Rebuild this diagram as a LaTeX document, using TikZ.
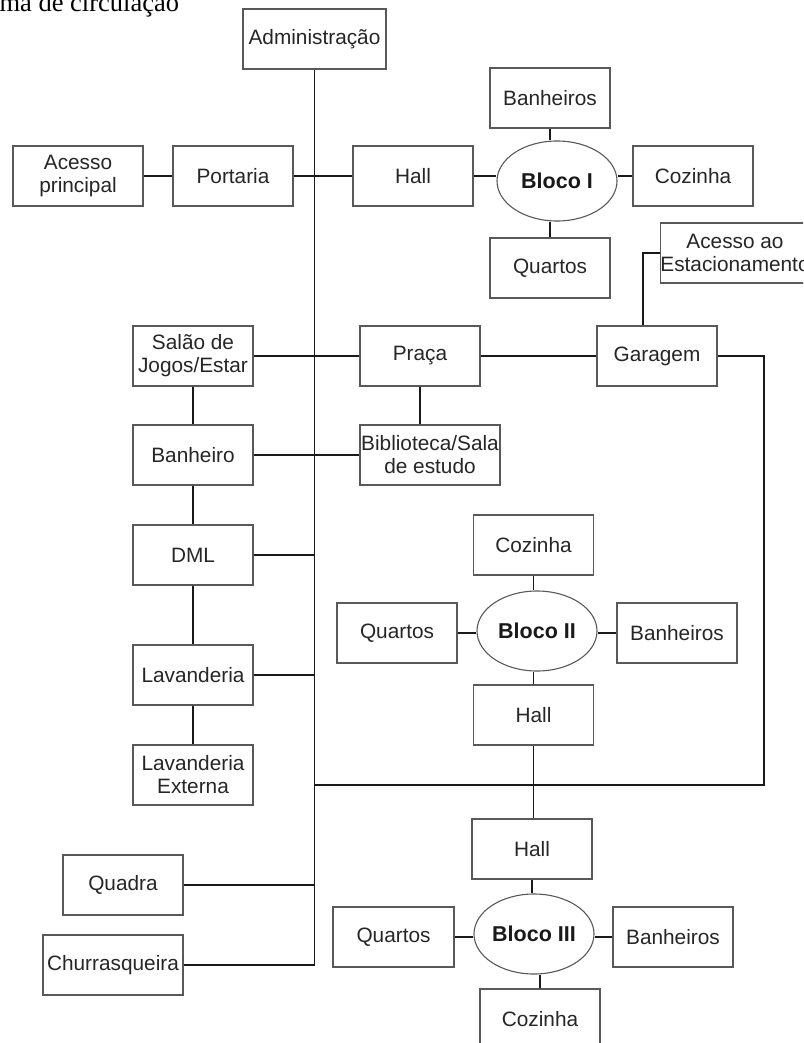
\documentclass[tikz,border=0pt]{standalone}
\usepackage{fontspec}
\setmainfont{Liberation Sans}
\newfontfamily\serifa{Liberation Serif}
\usetikzlibrary{shapes.geometric}

\tikzset{
  sala/.style={draw=black!65, line width=1.3pt, fill=white, minimum width=120, minimum height=60,
    inner sep=0, align=center, text=black!85, font=\fontsize{20.8}{23}\selectfont},
  bloco/.style={ellipse, draw=black!65, line width=1.1pt, fill=white, minimum width=120, minimum height=80,
    inner sep=0, text=black!90, font=\fontsize{21.5}{23}\selectfont\bfseries},
  liga/.style={draw=black!90, line width=1.2pt}
}

\begin{document}
\begin{tikzpicture}[x=1pt,y=-1pt]
\useasboundingbox (0,0) rectangle (803,1043);
\clip (0,0) rectangle (803,1043);

\node[anchor=base west, font=\serifa\fontsize{26.5}{28}\selectfont, text=black] (titulo) at (-4,12) {ma de circulação};

% eixo principal
\node[sala, minimum width=143] (adm) at (314.5,39) {Administração};
\node[sala, minimum width=130] (acesso) at (78,176) {Acesso\\principal};
\node[sala] (port) at (233,176) {Portaria};
\node[sala] (hall1) at (413,176) {Hall};

% Bloco I
\node[bloco] (bI) at (557,181) {Bloco I};
\node[sala] (ban1) at (550,98) {Banheiros};
\node[sala] (coz1) at (693,176) {Cozinha};
\node[sala] (qua1) at (550,268) {Quartos};

\node[sala, minimum width=146] (estac) at (735,253) {Acesso ao\\Estacionamento};
\node[sala] (gar) at (657,356) {Garagem};
\node[sala] (praca) at (420,356) {Praça};
\node[sala, minimum width=140] (bibl) at (430,455) {Biblioteca/Sala\\de estudo};

% lado esquerdo
\node[sala] (salao) at (193,356) {Salão de\\Jogos/Estar};
\node[sala] (banh) at (193,455) {Banheiro};
\node[sala] (dml) at (193,555) {DML};
\node[sala] (lav) at (193,675) {Lavanderia};
\node[sala] (lavext) at (193,775) {Lavanderia\\Externa};
\node[sala] (quadra) at (123,885) {Quadra};
\node[sala, minimum width=140] (churr) at (113,965) {Churrasqueira};

% Bloco II
\node[bloco] (bII) at (537,631) {Bloco II};
\node[sala] (coz2) at (533.5,545) {Cozinha};
\node[sala] (qua2) at (397,633) {Quartos};
\node[sala] (ban2) at (677,633) {Banheiros};
\node[sala] (hall2) at (533.5,715) {Hall};

% Bloco III
\node[sala] (hall3) at (532,849) {Hall};
\node[bloco] (bIII) at (534,934) {Bloco III};
\node[sala, minimum width=121] (qua3) at (393.5,937) {Quartos};
\node[sala] (ban3) at (673,937) {Banheiros};
\node[sala] (coz3) at (540,1019) {Cozinha};

\coordinate (anel) at (764,785);

\begin{scope}[on background layer/.try]
\draw[liga] (churr.east) -| (adm.south);
\draw[liga] (acesso) -- (port);
\draw[liga] (port) -- (hall1);
\draw[liga] (hall1.east) -- (hall1.east -| bI.west);
\draw[liga] (ban1.south) -- (ban1.south |- bI.north);
\draw[liga] (qua1.north) -- (qua1.north |- bI.south);
\draw[liga] (coz1.west) -- (coz1.west -| bI.east);
\draw[liga] (estac.west) -| ([xshift=-14]gar.north);
\draw[liga] (salao) -- (praca);
\draw[liga] (praca) -- (gar);
\draw[liga] (praca.south) -- (praca.south |- bibl.north);
\draw[liga] (banh) -- (bibl);
\draw[liga] (salao) -- (banh);
\draw[liga] (banh) -- (dml);
\draw[liga] (dml) -- (lav);
\draw[liga] (lav) -- (lavext);
\draw[liga] (dml.east) -- (dml.east -| adm.south);
\draw[liga] (lav.east) -- (lav.east -| adm.south);
\draw[liga] (quadra.east) -- (quadra.east -| adm.south);
\draw[liga] (gar.east) -| (anel) -- (anel -| adm.south);
\draw[liga] (coz2.south) -- (coz2.south |- bII.north);
\draw[liga] (qua2.east) -- (qua2.east -| bII.west);
\draw[liga] (ban2.west) -- (ban2.west -| bII.east);
\draw[liga] (hall2.north) -- (hall2.north |- bII.south);
\draw[liga] (hall2.south) -- (hall2.south |- hall3.north);
\draw[liga] (hall3.south) -- (hall3.south |- bIII.north);
\draw[liga] (qua3.east) -- (qua3.east -| bIII.west);
\draw[liga] (ban3.west) -- (ban3.west -| bIII.east);
\draw[liga] (coz3.north) -- (coz3.north |- bIII.south);
\end{scope}
\end{tikzpicture}
\end{document}
